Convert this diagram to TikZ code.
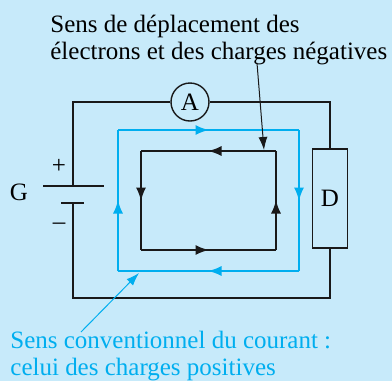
\documentclass[tikz,border=0pt]{standalone}
\usepackage{fontspec}
\setmainfont{LiberationSerif}[Extension=.ttf, UprightFont=*-Regular, BoldFont=*-Bold]
\usetikzlibrary{arrows.meta,decorations.markings}

\definecolor{bgblue}{RGB}{199,234,250}
\definecolor{posblue}{RGB}{0,174,239}
\definecolor{wirecol}{RGB}{25,25,25}

\tikzset{
  wire/.style={wirecol, line width=0.7pt},
  flow/.style={posblue, line width=0.7pt},
  midarrow/.style={postaction={decorate},
    decoration={markings, mark=at position 0.5 with {\arrow{Latex[length=6.5pt,width=5pt]}}}},
  pointer/.style={line width=0.5pt, -{Latex[length=6.5pt,width=4.5pt]}},
  txt/.style={font=\rmfamily\fontsize{12.5}{13.5}\selectfont, inner sep=0pt}
}

\begin{document}
\begin{tikzpicture}[x=0.5pt,y=-0.5pt]

  % background
  \fill[bgblue] (0,0) rectangle (392,381);
  \useasboundingbox (0,0) rectangle (392,381);

  % corners of the circuit
  \coordinate (tl) at (73,102);
  \coordinate (tr) at (330,102);
  \coordinate (bl) at (73,298);
  \coordinate (br) at (330,298);

  % ammeter
  \node [txt, draw=wirecol, line width=0.7pt, circle, minimum size=19pt] (A) at (190,102) {A};

  % resistor D
  \node [txt, draw=wirecol, line width=0.7pt, minimum width=17.5pt, minimum height=49.5pt] (D) at (330,198.5) {D};

  % generator G
  \coordinate (plus) at (73,186);
  \coordinate (minus) at (73,203);
  \draw [wire] (43,186) -- (104,186);
  \draw [wire] (61,203) -- (84,203);
  \node [txt] (G) at (19,192) {G};
  \node [txt] (pos) at (59,166) {+};
  \node [txt] (neg) at (59,226) {–};

  % wires
  \draw [wire] (A.west) -- (tl) -- (plus);
  \draw [wire] (minus) -- (bl) -- (br) -- (D.south);
  \draw [wire] (D.north) -- (tr) -- (A.east);

  % conventional current (blue loop)
  \draw [flow, midarrow] (118,130) -- (299,130);
  \draw [flow, midarrow] (299,130) -- (299,271);
  \draw [flow, midarrow] (299,271) -- (118,271);
  \draw [flow, midarrow] (118,271) -- (118,130);

  % electrons (black loop)
  \draw [wire, midarrow] (276,151) -- (141,151);
  \draw [wire, midarrow] (141,151) -- (141,250);
  \draw [wire, midarrow] (141,250) -- (276,250);
  \draw [wire, midarrow] (276,250) -- (276,151);

  % top text
  \node [txt, anchor=base west, align=left] (electrons) at (50,59)
    {Sens de déplacement des\\électrons et des charges négatives};
  \coordinate (etip) at (264,150);
  \draw [wire, pointer] (257,63) -- (etip);

  % bottom text
  \node [txt, posblue, anchor=base west, align=left] (courant) at (10,375)
    {Sens conventionnel du courant :\\celui des charges positives};
  \coordinate (ctip) at (139,273);
  \draw [posblue, pointer] (81,332) -- (ctip);

\end{tikzpicture}
\end{document}
